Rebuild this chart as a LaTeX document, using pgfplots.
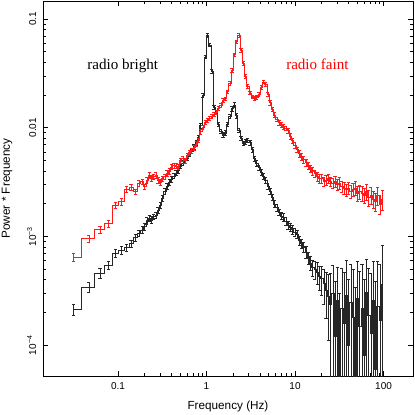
\documentclass[border=0pt]{standalone}
\usepackage{fontspec}
\setmainfont{Liberation Sans}
\newfontfamily\serif{Liberation Serif}
\usepackage{pgfplots}
\usepackage{pgfplotstable}
\pgfplotsset{compat=1.18}

% f = frequency (Hz), p = power*frequency, ep/em = relative errors
\pgfplotstableread{
f p ep em
0.03125 2.13e-4 0.12 0.12
0.046875 3.44e-4 0.11 0.11
0.0625 4.63e-4 0.10 0.10
0.078125 5.45e-4 0.09 0.09
0.09375 7.00e-4 0.08 0.08
0.109375 7.50e-4 0.08 0.08
0.125 7.90e-4 0.08 0.08
0.140625 8.60e-4 0.07 0.07
0.15625 9.80e-4 0.07 0.07
0.171875 1.07e-3 0.07 0.07
0.1875 1.15e-3 0.07 0.07
0.2000 1.23e-3 0.07 0.07
0.2120 1.40e-3 0.07 0.07
0.2247 1.47e-3 0.07 0.07
0.2382 1.42e-3 0.07 0.07
0.2525 1.52e-3 0.06 0.06
0.2676 1.58e-3 0.06 0.06
0.2837 1.75e-3 0.06 0.06
0.3007 1.95e-3 0.06 0.06
0.3188 2.25e-3 0.06 0.06
0.3379 2.60e-3 0.06 0.06
0.3582 2.90e-3 0.06 0.06
0.3797 3.15e-3 0.06 0.06
0.4024 3.35e-3 0.06 0.06
0.4266 3.60e-3 0.05 0.05
0.4522 3.85e-3 0.05 0.05
0.4793 4.05e-3 0.05 0.05
0.5081 4.45e-3 0.05 0.05
0.5386 4.75e-3 0.05 0.05
0.5709 5.00e-3 0.05 0.05
0.6051 5.30e-3 0.05 0.05
0.6414 5.70e-3 0.05 0.05
0.6799 6.10e-3 0.05 0.05
0.7207 6.70e-3 0.05 0.05
0.7640 7.30e-3 0.05 0.05
0.8098 8.10e-3 0.05 0.05
0.8584 1.05e-2 0.05 0.05
0.9099 2.00e-2 0.04 0.04
0.9645 4.50e-2 0.04 0.04
1.0224 7.10e-2 0.04 0.04
1.0837 5.80e-2 0.04 0.04
1.1487 3.30e-2 0.04 0.04
1.2177 1.55e-2 0.04 0.04
1.2908 1.40e-2 0.04 0.04
1.3682 1.08e-2 0.05 0.05
1.4503 9.30e-3 0.05 0.05
1.5373 8.60e-3 0.05 0.05
1.6295 9.00e-3 0.05 0.05
1.7273 1.08e-2 0.05 0.05
1.8309 1.28e-2 0.05 0.05
1.9408 1.50e-2 0.05 0.05
2.0572 1.62e-2 0.05 0.05
2.1807 1.30e-2 0.05 0.05
2.3115 9.50e-3 0.05 0.05
2.4502 8.00e-3 0.05 0.05
2.5972 7.20e-3 0.05 0.05
2.7530 7.40e-3 0.05 0.05
2.9182 7.70e-3 0.05 0.05
3.0933 7.30e-3 0.05 0.05
3.2789 6.30e-3 0.05 0.05
3.4756 5.20e-3 0.06 0.06
3.6842 4.70e-3 0.06 0.06
3.9052 4.30e-3 0.06 0.06
4.1395 3.90e-3 0.06 0.06
4.3879 3.60e-3 0.06 0.06
4.6512 3.30e-3 0.06 0.06
4.9302 2.90e-3 0.06 0.06
5.2260 2.60e-3 0.06 0.06
5.5396 2.30e-3 0.07 0.07
5.8720 2.00e-3 0.07 0.07
6.2243 1.85e-3 0.07 0.07
6.5977 1.68e-3 0.07 0.07
6.9936 1.55e-3 0.07 0.07
7.4132 1.50e-3 0.08 0.08
7.8580 1.38e-3 0.08 0.08
8.3295 1.28e-3 0.08 0.08
8.8293 1.22e-3 0.08 0.08
9.3590 1.16e-3 0.09 0.09
9.9206 1.10e-3 0.09 0.09
10.516 1.05e-3 0.09 0.09
11.147 9.20e-4 0.10 0.10
11.815 8.60e-4 0.10 0.10
12.524 8.00e-4 0.11 0.11
13.276 7.20e-4 0.12 0.12
14.072 6.40e-4 0.13 0.13
14.917 5.70e-4 0.15 0.15
15.812 5.20e-4 0.17 0.17
16.760 5.00e-4 0.19 0.19
17.766 4.70e-4 0.22 0.22
18.832 4.30e-4 0.25 0.25
19.962 4.10e-4 0.30 0.30
21.159 3.70e-4 0.35 0.35
22.429 3.20e-4 0.45 0.45
23.775 2.80e-4 0.60 0.60
25.201 2.40e-4 0.90 0.99
26.713 3.00e-4 0.80 0.99
28.316 1.20e-4 2.20 0.99
30.015 2.60e-4 1.00 0.99
31.816 3.00e-5 9.00 0.99
33.725 2.20e-4 1.30 0.99
35.748 1.60e-4 1.90 0.99
37.893 2.90e-4 1.10 0.99
40.167 1.00e-4 3.00 0.99
42.577 2.50e-4 1.20 0.99
45.131 1.80e-4 1.80 0.99
47.839 4.00e-5 7.50 0.99
50.710 2.70e-4 1.20 0.99
53.752 1.50e-4 2.20 0.99
56.977 2.20e-4 1.50 0.99
60.396 8.00e-5 4.00 0.99
64.020 3.10e-4 1.00 0.99
67.861 1.90e-4 1.70 0.99
71.933 1.30e-4 2.50 0.99
76.249 2.60e-4 1.30 0.99
80.824 6.00e-5 5.50 0.99
85.673 2.30e-4 1.60 0.99
90.814 1.70e-4 2.30 0.99
96.262 3.60e-4 1.30 0.99
}\bright

\pgfplotstableread{
f p ep em
0.03125 6.50e-4 0.09 0.09
0.046875 9.60e-4 0.08 0.08
0.0625 1.16e-3 0.07 0.07
0.078125 1.32e-3 0.07 0.07
0.09375 1.95e-3 0.07 0.07
0.109375 2.09e-3 0.07 0.07
0.125 2.71e-3 0.06 0.06
0.140625 2.85e-3 0.06 0.06
0.15625 2.58e-3 0.06 0.06
0.171875 3.08e-3 0.06 0.06
0.1875 3.20e-3 0.06 0.06
0.2000 2.87e-3 0.06 0.06
0.2120 3.30e-3 0.06 0.06
0.2247 3.67e-3 0.06 0.06
0.2382 3.42e-3 0.06 0.06
0.2525 3.55e-3 0.06 0.06
0.2676 3.67e-3 0.06 0.06
0.2837 3.30e-3 0.06 0.06
0.3007 3.15e-3 0.06 0.06
0.3188 3.40e-3 0.06 0.06
0.3379 3.55e-3 0.06 0.06
0.3582 3.80e-3 0.06 0.06
0.3797 4.00e-3 0.06 0.06
0.4024 4.37e-3 0.05 0.05
0.4266 4.50e-3 0.05 0.05
0.4522 4.45e-3 0.05 0.05
0.4793 4.37e-3 0.05 0.05
0.5081 5.00e-3 0.05 0.05
0.5386 5.20e-3 0.05 0.05
0.5709 5.00e-3 0.05 0.05
0.6051 5.60e-3 0.05 0.05
0.6414 5.90e-3 0.05 0.05
0.6799 6.20e-3 0.05 0.05
0.7207 6.60e-3 0.05 0.05
0.7640 7.10e-3 0.05 0.05
0.8098 7.70e-3 0.05 0.05
0.8584 9.20e-3 0.05 0.05
0.9099 1.02e-2 0.04 0.04
0.9645 1.12e-2 0.04 0.04
1.0224 1.18e-2 0.04 0.04
1.0837 1.22e-2 0.04 0.04
1.1487 1.28e-2 0.04 0.04
1.2177 1.34e-2 0.04 0.04
1.2908 1.40e-2 0.04 0.04
1.3682 1.51e-2 0.04 0.04
1.4503 1.60e-2 0.04 0.04
1.5373 1.80e-2 0.04 0.04
1.6295 1.85e-2 0.04 0.04
1.7273 2.15e-2 0.04 0.04
1.8309 2.55e-2 0.04 0.04
1.9408 3.40e-2 0.04 0.04
2.0572 4.70e-2 0.04 0.04
2.1807 6.20e-2 0.04 0.04
2.3115 7.10e-2 0.04 0.04
2.4502 5.20e-2 0.04 0.04
2.5972 3.90e-2 0.04 0.04
2.7530 3.00e-2 0.04 0.04
2.9182 2.40e-2 0.04 0.04
3.0933 2.10e-2 0.04 0.04
3.2789 1.93e-2 0.04 0.04
3.4756 1.86e-2 0.04 0.04
3.6842 1.90e-2 0.04 0.04
3.9052 2.02e-2 0.04 0.04
4.1395 2.38e-2 0.04 0.04
4.3879 2.65e-2 0.04 0.04
4.6512 2.50e-2 0.04 0.04
4.9302 2.05e-2 0.04 0.04
5.2260 1.70e-2 0.05 0.05
5.5396 1.48e-2 0.05 0.05
5.8720 1.31e-2 0.05 0.05
6.2243 1.20e-2 0.05 0.05
6.5977 1.12e-2 0.05 0.05
6.9936 1.06e-2 0.05 0.05
7.4132 1.02e-2 0.05 0.05
7.8580 9.90e-3 0.05 0.05
8.3295 9.40e-3 0.05 0.05
8.8293 8.40e-3 0.06 0.06
9.3590 7.60e-3 0.06 0.06
9.9206 6.90e-3 0.06 0.06
10.516 6.30e-3 0.06 0.06
11.147 5.80e-3 0.07 0.07
11.815 5.40e-3 0.07 0.07
12.524 5.10e-3 0.07 0.07
13.276 4.80e-3 0.07 0.07
14.072 4.50e-3 0.08 0.08
14.917 4.20e-3 0.08 0.08
15.812 4.00e-3 0.08 0.08
16.760 3.80e-3 0.08 0.08
17.766 3.55e-3 0.09 0.09
18.832 3.40e-3 0.09 0.09
19.962 3.40e-3 0.09 0.09
21.159 3.20e-3 0.10 0.10
22.429 3.30e-3 0.10 0.10
23.775 3.40e-3 0.10 0.10
25.201 3.20e-3 0.10 0.10
26.713 3.10e-3 0.11 0.11
28.316 3.20e-3 0.11 0.11
30.015 3.00e-3 0.11 0.11
31.816 3.10e-3 0.12 0.12
33.725 2.90e-3 0.12 0.12
35.748 2.80e-3 0.12 0.12
37.893 2.70e-3 0.13 0.13
40.167 2.80e-3 0.13 0.13
42.577 2.60e-3 0.13 0.13
45.131 2.70e-3 0.14 0.14
47.839 2.80e-3 0.14 0.14
50.710 2.50e-3 0.15 0.15
53.752 2.60e-3 0.15 0.15
56.977 2.50e-3 0.16 0.16
60.396 2.40e-3 0.16 0.16
64.020 2.60e-3 0.17 0.17
67.861 2.30e-3 0.17 0.17
71.933 2.40e-3 0.18 0.18
76.249 2.20e-3 0.18 0.18
80.824 2.10e-3 0.19 0.19
85.673 2.40e-3 0.19 0.19
90.814 2.00e-3 0.20 0.20
96.262 2.20e-3 0.20 0.20
}\faint

\begin{document}
\begin{tikzpicture}
\begin{axis}[
    at={(0,0)}, anchor=south west,
    width=277.5pt, height=281.25pt, scale only axis,
    xmode=log, ymode=log,
    xmin=0.01422, xmax=215, ymin=5.2e-5, ymax=0.1465,
    xtick={0.1,1,10,100}, xticklabels={0.1,1,10,100},
    ytick={1e-4,1e-3,1e-2,1e-1},
    yticklabels={10\textsuperscript{−4},10\textsuperscript{−3},0.01,0.1},
    tick label style={font=\fontsize{7.5}{9}\selectfont},
    xticklabel style={yshift=-1.5pt},
    yticklabel style={xshift=-1.5pt, rotate=90, anchor=south},
    xlabel={Frequency (Hz)}, ylabel={Power * Frequency},
    label style={font=\fontsize{8.8}{10}\selectfont},
    xlabel style={at={(axis description cs:0.5,-0.08)}, anchor=center},
    ylabel style={at={(axis description cs:-0.0973,0.5)}, anchor=center},
    major tick length=3.75pt, minor tick length=2pt,
    every tick/.style={black, line width=0.4pt},
    axis line style={line width=0.5pt},
    error bars/y dir=both,
    error bars/y explicit relative,
    error bars/error mark options={rotate=90, mark size=1.2pt, line width=0.3pt},
    error bars/error bar style={line width=0.3pt},
]
\addplot[black!85, line width=0.3pt, const plot mark mid, mark=none]
    table[x=f, y=p, y error plus=ep, y error minus=em] {\bright};
\addplot[red!90, line width=0.3pt, const plot mark mid, mark=none]
    table[x=f, y=p, y error plus=ep, y error minus=em] {\faint};
\node[anchor=base, font=\serif\fontsize{11.3}{13}\selectfont, black]
    at (axis cs:0.113,0.0347) {radio bright};
\node[anchor=base, font=\serif\fontsize{11.3}{13}\selectfont, red]
    at (axis cs:17.9,0.0347) {radio faint};
\end{axis}
\pgfresetboundingbox
\path[use as bounding box] (-32.25pt,-29.25pt) rectangle (279pt,282pt);
\end{tikzpicture}
\end{document}
